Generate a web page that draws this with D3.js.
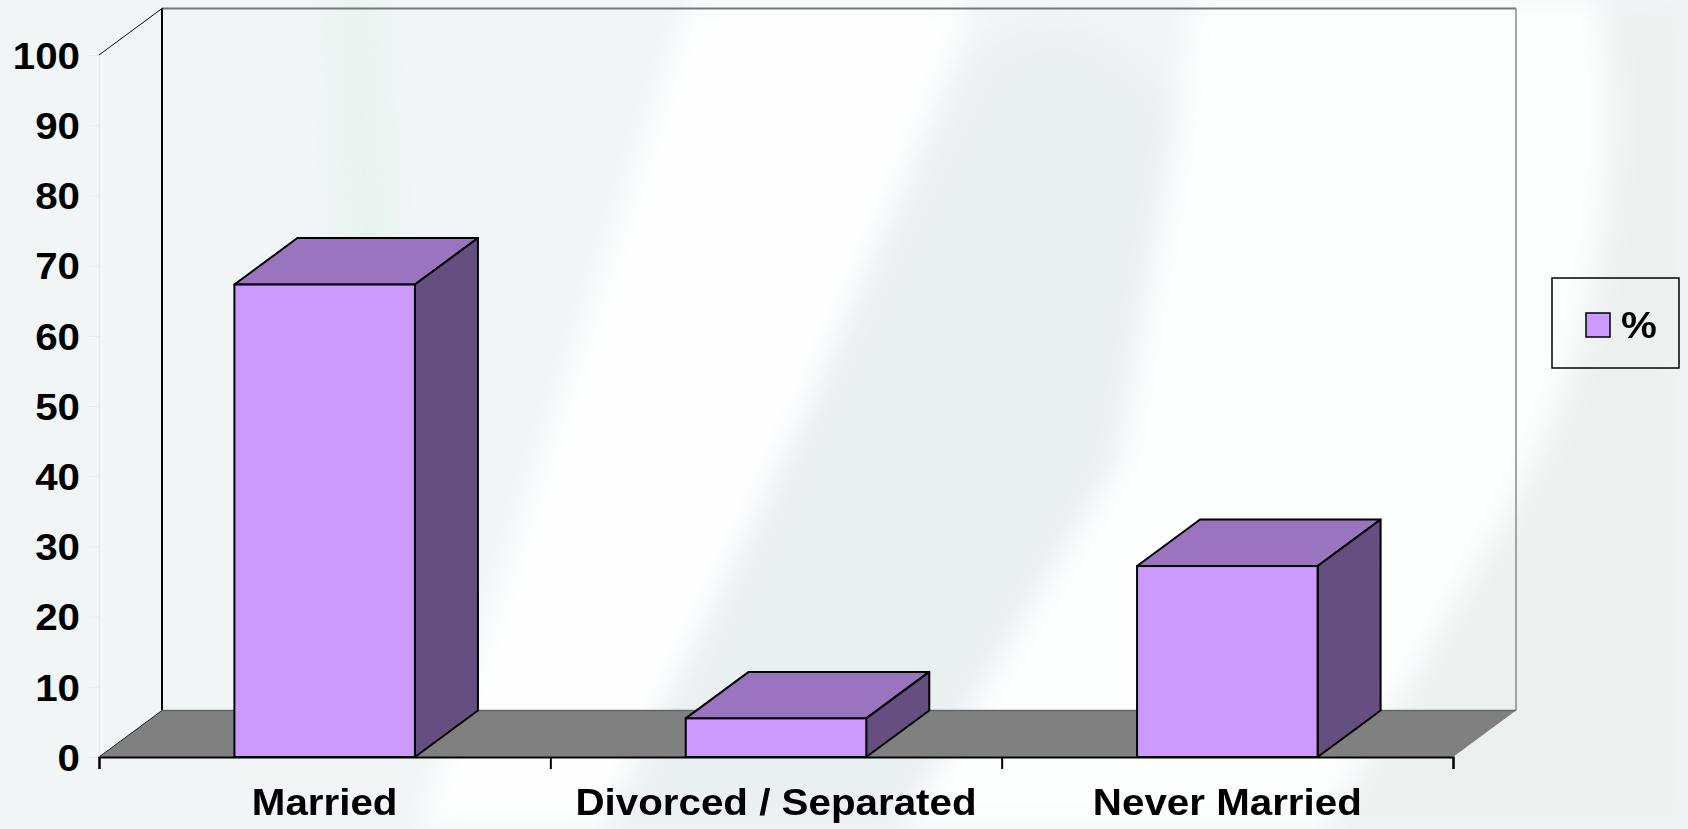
<!DOCTYPE html>
<html>
<head>
<meta charset="utf-8">
<script src="https://cdn.jsdelivr.net/npm/d3@7"></script>
<style>
  html, body { margin: 0; padding: 0; background: #F1F5F6; overflow: hidden; }
  svg { display: block; }
  text { font-family: "Liberation Sans", Arial, sans-serif; font-weight: bold; fill: #000; }
</style>
</head>
<body>
<script>
// ---- data ----
const categories = ["Married", "Divorced / Separated", "Never Married"];
const values = [67.3, 5.5, 27.2];
const seriesName = "%";
const yTicks = [0, 10, 20, 30, 40, 50, 60, 70, 80, 90, 100];

// ---- layout ----
const W = 1688, H = 829;
const frontLeft = 99, frontRight = 1453, baseY = 757, topY = 55;
const DX = 63, DY = -46.5;
const FS = 37, SX = 1.09;

const svg = d3.select("body").append("svg").attr("width", W).attr("height", H);

// background
const defs = svg.append("defs");
defs.append("filter").attr("id", "blur").attr("x", "-20%").attr("y", "-20%").attr("width", "140%").attr("height", "140%")
  .append("feGaussianBlur").attr("stdDeviation", 14);
svg.append("rect").attr("width", W).attr("height", H).attr("fill", "#F1F5F6");
const bg = svg.append("g").attr("filter", "url(#blur)");
bg.append("path").attr("d", "M330,0 L380,0 L420,650 L360,700 Z").attr("fill", "#E6F3EC").attr("opacity", 0.8);
bg.append("path").attr("d", "M690,0 L975,0 L800,420 L600,829 L420,829 Z").attr("fill", "#FFFFFF").attr("opacity", 0.9);
bg.append("path").attr("d", "M975,60 Q1075,-30 1180,110 L1120,460 L900,829 L610,829 L800,420 Z").attr("fill", "#EAEFF2");
bg.append("path").attr("d", "M1180,110 L1190,0 L1600,0 Q1640,300 1480,560 L1320,829 L900,829 L1120,460 Z").attr("fill", "#FFFFFF").attr("opacity", 0.85);
bg.append("path").attr("d", "M1600,0 L1688,0 L1688,829 L1330,829 L1480,560 Q1640,300 1600,0 Z").attr("fill", "#ECF1F0");

// scales
const x = d3.scaleBand().domain(categories).range([frontLeft, frontRight]).paddingInner(0.6).paddingOuter(0.3);
const xEdge = d3.scaleLinear().domain([0, categories.length]).range([frontLeft, frontRight]);
const y = d3.scaleLinear().domain([0, 100]).range([baseY, topY]);

// back wall
const backL = frontLeft + DX, backR = frontRight + DX, backTop = y(100) + DY, backBot = baseY + DY;
svg.append("line").attr("x1", backL).attr("y1", backTop).attr("x2", backR).attr("y2", backTop)
  .attr("stroke", "#777").attr("stroke-width", 2);
svg.append("line").attr("x1", backR).attr("y1", backTop).attr("x2", backR).attr("y2", backBot)
  .attr("stroke", "#888").attr("stroke-width", 1.5);
svg.append("line").attr("x1", backL).attr("y1", backTop).attr("x2", backL).attr("y2", backBot)
  .attr("stroke", "#000").attr("stroke-width", 2);
// diagonal from front axis top
svg.append("line").attr("x1", frontLeft).attr("y1", y(100)).attr("x2", backL).attr("y2", backTop)
  .attr("stroke", "#000").attr("stroke-width", 1);

// floor
svg.append("path")
  .attr("d", `M${frontLeft},${baseY} L${frontRight},${baseY} L${backR},${backBot} L${backL},${backBot} Z`)
  .attr("fill", "#808080").attr("stroke", "none");
svg.append("line").attr("x1", backL).attr("y1", backBot).attr("x2", backR).attr("y2", backBot)
  .attr("stroke", "#666").attr("stroke-width", 1.5);
svg.append("line").attr("x1", frontLeft).attr("y1", baseY).attr("x2", backL).attr("y2", backBot)
  .attr("stroke", "#222").attr("stroke-width", 1);

// y axis (faint)
const yAxis = svg.append("g").attr("transform", `translate(${frontLeft},0)`)
  .call(d3.axisLeft(y).tickValues(yTicks).tickSize(12).tickPadding(7).tickFormat(d3.format("d")));
yAxis.select(".domain").attr("stroke", "#ECE8E8");
yAxis.selectAll(".tick line").attr("stroke", "#F0E8E8");
yAxis.selectAll(".tick text")
  .attr("font-size", FS).attr("font-family", null).attr("fill", "#000")
  .attr("dy", "0.36em")
  .attr("x", -19 / SX)
  .attr("transform", `scale(${SX},1)`);

// bars
const bw = x.bandwidth();
const bars = svg.append("g").selectAll("g.bar").data(categories.map((c, i) => ({ c, v: values[i] }))).join("g").attr("class", "bar");
bars.append("path") // top
  .attr("d", d => { const x0 = x(d.c), yt = y(d.v);
    return `M${x0},${yt} L${x0 + DX},${yt + DY} L${x0 + bw + DX},${yt + DY} L${x0 + bw},${yt} Z`; })
  .attr("fill", "#9A74BF").attr("stroke", "#000").attr("stroke-width", 2).attr("stroke-linejoin", "round");
bars.append("path") // side
  .attr("d", d => { const x1 = x(d.c) + bw, yt = y(d.v), yb = y(0);
    return `M${x1},${yt} L${x1 + DX},${yt + DY} L${x1 + DX},${yb + DY} L${x1},${yb} Z`; })
  .attr("fill", "#654E80").attr("stroke", "#000").attr("stroke-width", 2).attr("stroke-linejoin", "round");
bars.append("rect") // front
  .attr("x", d => x(d.c)).attr("y", d => y(d.v)).attr("width", bw).attr("height", d => y(0) - y(d.v))
  .attr("fill", "#CC99FF").attr("stroke", "#000").attr("stroke-width", 2);

// x axis
const xAxis = svg.append("g").attr("transform", `translate(0,${baseY})`)
  .call(d3.axisBottom(xEdge).tickValues(d3.range(categories.length + 1)).tickSize(12).tickFormat(""));
xAxis.select(".domain").attr("stroke", "#000").attr("stroke-width", 2);
xAxis.selectAll(".tick line").attr("stroke", "#000").attr("stroke-width", 2);

svg.append("g").selectAll("text").data(categories).join("text")
  .attr("x", d => (x(d) + bw / 2) / SX).attr("y", 802).attr("dy", "0.36em")
  .attr("text-anchor", "middle").attr("font-size", FS)
  .attr("transform", `scale(${SX},1)`)
  .text(d => d);

// legend
const lg = svg.append("g");
lg.append("rect").attr("x", 1552).attr("y", 278).attr("width", 127).attr("height", 90)
  .attr("fill", "none").attr("stroke", "#000").attr("stroke-width", 1.5);
lg.append("rect").attr("x", 1586).attr("y", 313).attr("width", 24).attr("height", 24)
  .attr("fill", "#CC99FF").attr("stroke", "#000").attr("stroke-width", 1.5);
lg.append("text").attr("x", 1621 / SX).attr("y", 325).attr("dy", "0.36em")
  .attr("font-size", FS).attr("transform", `scale(${SX},1)`).text(seriesName);
</script>
</body>
</html>
